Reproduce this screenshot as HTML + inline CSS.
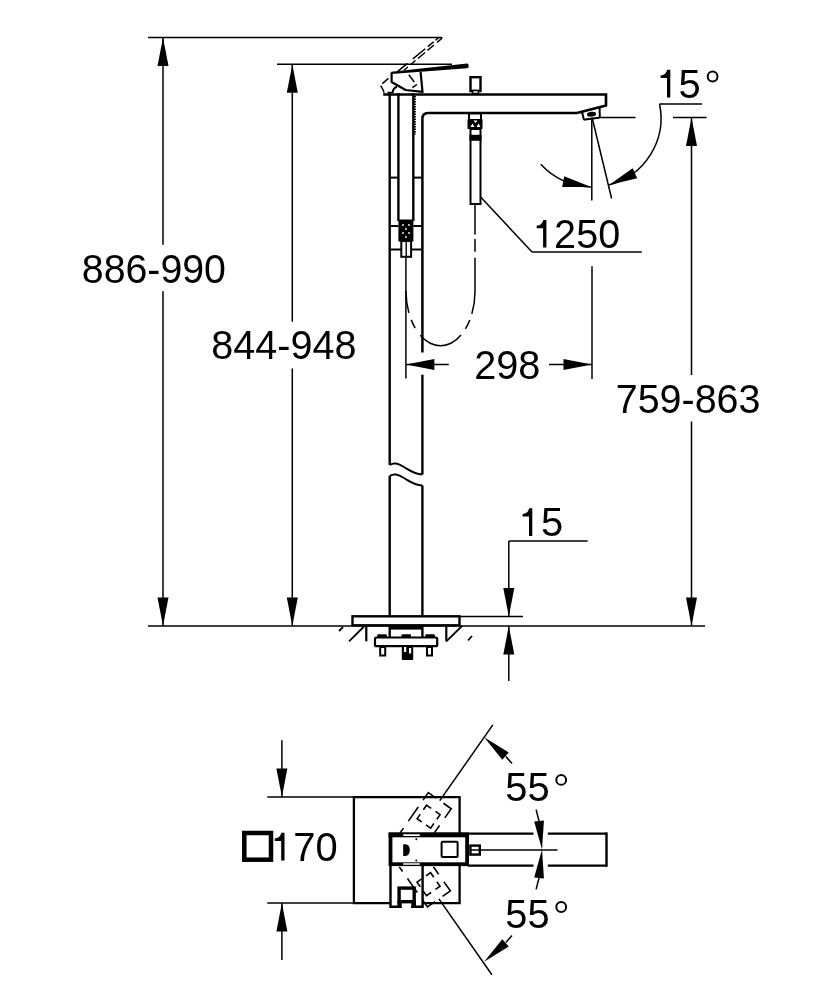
<!DOCTYPE html>
<html><head><meta charset="utf-8"><style>
html,body{margin:0;padding:0;background:#fff;}
svg{display:block;font-family:"Liberation Sans",sans-serif;will-change:transform;}
</style></head><body>
<svg width="834" height="1000" viewBox="0 0 834 1000" stroke="#000" fill="none" stroke-linecap="butt">
<line x1="148" y1="37.5" x2="441" y2="37.5" stroke-width="1.5"/>
<line x1="163" y1="37.5" x2="163" y2="244.7" stroke-width="1.5"/>
<line x1="163" y1="291.2" x2="163" y2="626" stroke-width="1.5"/>
<polygon points="163.00,37.50 168.50,66.00 157.50,66.00" fill="#000" stroke="none"/>
<polygon points="163.00,626.00 157.50,597.50 168.50,597.50" fill="#000" stroke="none"/>
<text transform="matrix(0.9826 0 0 1.0000 81.78 282.77)" font-size="40" stroke="none" fill="#000">886-990</text>
<line x1="277" y1="64.3" x2="452" y2="64.3" stroke-width="1.5"/>
<line x1="292.3" y1="64.3" x2="292.3" y2="321.7" stroke-width="1.5"/>
<line x1="292.3" y1="368.6" x2="292.3" y2="626" stroke-width="1.5"/>
<polygon points="292.30,64.30 297.80,92.80 286.80,92.80" fill="#000" stroke="none"/>
<polygon points="292.30,626.00 286.80,597.50 297.80,597.50" fill="#000" stroke="none"/>
<text transform="matrix(0.9885 0 0 1.0000 211.37 359.48)" font-size="40" stroke="none" fill="#000">844-948</text>
<line x1="148" y1="626" x2="705" y2="626" stroke-width="1.5"/>
<line x1="673" y1="117.4" x2="706.5" y2="117.4" stroke-width="1.5"/>
<line x1="691.5" y1="117.4" x2="691.5" y2="375" stroke-width="1.5"/>
<line x1="691.5" y1="421.5" x2="691.5" y2="626" stroke-width="1.5"/>
<polygon points="691.50,117.40 697.00,145.90 686.00,145.90" fill="#000" stroke="none"/>
<polygon points="691.50,626.00 686.00,597.50 697.00,597.50" fill="#000" stroke="none"/>
<text transform="matrix(0.9860 0 0 1.0000 615.73 412.67)" font-size="40" stroke="none" fill="#000">759-863</text>
<line x1="508.8" y1="541" x2="587.7" y2="541" stroke-width="1.5"/>
<line x1="508.8" y1="541" x2="508.8" y2="616.4" stroke-width="1.5"/>
<polygon points="508.80,616.40 503.30,587.90 514.30,587.90" fill="#000" stroke="none"/>
<line x1="460" y1="616.4" x2="523" y2="616.4" stroke-width="1.5"/>
<line x1="508.8" y1="626" x2="508.8" y2="681" stroke-width="1.5"/>
<polygon points="508.80,626.00 514.30,654.50 503.30,654.50" fill="#000" stroke="none"/>
<path d="M 532.30 508.30 L 532.30 535.90 L 529.00 535.90 L 529.00 516.50 L 522.60 516.50 L 522.60 514.10 Q 527.80 513.90 529.20 508.30 Z" fill="#000" stroke="none"/>
<text transform="matrix(1.0000 0 0 1.0000 540.95 536.08)" font-size="40" stroke="none" fill="#000">5</text>
<line x1="389.7" y1="93" x2="389.7" y2="465" stroke-width="2.4"/>
<line x1="389.7" y1="476" x2="389.7" y2="617" stroke-width="2.4"/>
<line x1="389.7" y1="625" x2="389.7" y2="637" stroke-width="2.4"/>
<path d="M 577 112.9 L 428.2 112.9 Q 422.4 112.9 422.4 118.7 L 422.4 352.6" stroke-width="2.5"/>
<line x1="422.4" y1="374.7" x2="422.4" y2="474.4" stroke-width="2.4"/>
<line x1="422.4" y1="485.5" x2="422.4" y2="617" stroke-width="2.4"/>
<line x1="422.4" y1="625" x2="422.4" y2="637" stroke-width="2.4"/>
<path d="M 383.2 94.5 L 606 94.5 L 606 105.5 L 577 112.9" stroke-width="2.6" stroke-linejoin="miter"/>
<path d="M 389.7 465 C 394 462, 398 463.5, 404 467 C 410 470.5, 414 474.5, 422.4 474.4" stroke-width="2"/>
<path d="M 389.7 476 C 394 473, 398 474.5, 404 478 C 410 481.5, 414 485.5, 422.4 485.4" stroke-width="2"/>
<line x1="398.4" y1="93" x2="398.4" y2="221" stroke-width="2.4"/>
<line x1="413.3" y1="93" x2="413.3" y2="221" stroke-width="2.4"/>
<line x1="389.7" y1="177.6" x2="398.4" y2="177.6" stroke-width="2"/>
<line x1="413.3" y1="177.6" x2="422.4" y2="177.6" stroke-width="2"/>
<line x1="389.7" y1="226" x2="398.4" y2="226" stroke-width="2"/>
<line x1="413.3" y1="226" x2="422.4" y2="226" stroke-width="2"/>
<line x1="389.7" y1="249.5" x2="401.5" y2="249.5" stroke-width="2"/>
<line x1="411" y1="249.5" x2="422.4" y2="249.5" stroke-width="2"/>
<rect x="398.4" y="219.5" width="15" height="22" fill="#000" stroke="none"/>
<circle cx="403" cy="225" r="0.9" fill="#fff" stroke="none"/>
<circle cx="409" cy="225" r="0.9" fill="#fff" stroke="none"/>
<circle cx="406" cy="229" r="0.9" fill="#fff" stroke="none"/>
<circle cx="403" cy="233" r="0.9" fill="#fff" stroke="none"/>
<circle cx="409" cy="233" r="0.9" fill="#fff" stroke="none"/>
<circle cx="406" cy="237" r="0.9" fill="#fff" stroke="none"/>
<rect x="401.3" y="241" width="9.8" height="15.8" stroke-width="2" fill="#fff"/>
<line x1="406.2" y1="241" x2="406.2" y2="257" stroke-width="1.4"/>
<line x1="414.9" y1="96" x2="414.9" y2="134.5" stroke-width="2" stroke-dasharray="1.6 0.9"/>
<line x1="405.9" y1="257" x2="405.9" y2="378.6" stroke-width="1.5"/>
<path d="M 475 204.5 L 475 291 A 34.5 54.7 0 0 1 406 291" stroke-width="1.5" stroke-dasharray="29.9 4.6 12.8 5.9 56.4 6.4 9.9 7.5 47.5 8.7 9.1 7.4 30"/>
<rect x="470.5" y="77.2" width="10" height="13.8" stroke-width="2.4" fill="#fff"/>
<rect x="472.5" y="90.5" width="6" height="3" fill="#fff" stroke-width="1.5"/>
<rect x="469" y="113.5" width="12" height="6.5" stroke-width="2" fill="#fff"/>
<rect x="467.5" y="119.5" width="15" height="9.5" fill="#000" stroke="none"/>
<polygon points="470.5,127 472.5,123.5 474.5,127" fill="#fff" stroke="none"/>
<polygon points="476.5,127 478.5,123.5 480.5,127" fill="#fff" stroke="none"/>
<polygon points="473.5,120.5 477.5,120.5 475.5,123" fill="#fff" stroke="none"/>
<rect x="470.5" y="129" width="10" height="75" stroke-width="2" fill="#fff"/>
<rect x="469.5" y="134.8" width="12" height="6" fill="#000" stroke="none"/>
<path d="M 391.2 71.7 L 467.2 63.4 Q 468.6 63.4 468.6 65.4 L 468.6 66.4 Q 468.6 68.2 467 68.3 L 391.2 74 Z" fill="#000" stroke="none"/>
<path d="M 420.6 72 L 422.6 92.8 M 391.6 72.4 L 391.6 82 L 405.6 90 L 422.6 91.8" stroke-width="2.2" stroke-linejoin="round"/>
<path d="M 397.4 71.6 L 439 37.4" stroke-width="1.5" stroke-dasharray="13 7 16 3.4 7.4 2.5 20"/>
<path d="M 404 70.2 L 441.6 38.6 Q 442.2 37.4 440.6 37.4" stroke-width="1.5" stroke-dasharray="5 3.8 6.2 3.2 9.3 3.2 8.5 4 20"/>
<path d="M 388.4 78.4 L 380.4 85.2 L 383.2 90 L 384 92.4 L 392 92.4" stroke-width="1.5" stroke-dasharray="8 3"/>
<path d="M 392.5 93 Q 393 88 397 86.8" stroke-width="2"/>
<path d="M 408.8 74.8 L 416.4 84.8 L 412.4 87.6" stroke-width="1.5" stroke-dasharray="9 3"/>
<path d="M 581.8 111 L 583.6 118.6 Q 584 119.8 585.2 119.6 L 598.6 117.8 Q 599.8 117.6 599.8 116.4 L 599.6 107" stroke-width="2" stroke-linejoin="round"/>
<ellipse cx="591.5" cy="114.2" rx="4.6" ry="2.4" fill="#000" stroke="none" transform="rotate(-7 591.5 114.2)"/>
<line x1="405.9" y1="364.4" x2="448.8" y2="364.4" stroke-width="1.5"/>
<polygon points="405.90,364.40 434.40,358.90 434.40,369.90" fill="#000" stroke="none"/>
<line x1="549" y1="364.5" x2="592" y2="364.5" stroke-width="1.5"/>
<polygon points="592.00,364.50 563.50,370.00 563.50,359.00" fill="#000" stroke="none"/>
<line x1="592" y1="266.3" x2="592" y2="379" stroke-width="1.5"/>
<text transform="matrix(0.9905 0 0 1.0000 474.22 378.98)" font-size="40" stroke="none" fill="#000">298</text>
<line x1="480.4" y1="196.8" x2="532" y2="252" stroke-width="1.5"/>
<line x1="532" y1="252" x2="641.8" y2="252" stroke-width="1.5"/>
<path d="M 546.40 220.00 L 546.40 247.60 L 543.10 247.60 L 543.10 228.20 L 536.70 228.20 L 536.70 225.80 Q 541.90 225.60 543.30 220.00 Z" fill="#000" stroke="none"/>
<text transform="matrix(0.9897 0 0 1.0000 554.12 247.78)" font-size="40" stroke="none" fill="#000">250</text>
<line x1="591.8" y1="117.6" x2="591.8" y2="200.4" stroke-width="1.5"/>
<line x1="592.2" y1="118" x2="611.6" y2="198.5" stroke-width="1.5"/>
<line x1="598" y1="117.4" x2="635.5" y2="117.4" stroke-width="1.5"/>
<line x1="659.5" y1="104" x2="702" y2="104" stroke-width="1.5"/>
<path d="M 670.30 69.80 L 670.30 97.40 L 667.00 97.40 L 667.00 78.00 L 660.60 78.00 L 660.60 75.60 Q 665.80 75.40 667.20 69.80 Z" fill="#000" stroke="none"/>
<text transform="matrix(1.0000 0 0 1.0000 678.45 97.53)" font-size="40" stroke="none" fill="#000">5</text>
<circle cx="712.6" cy="76.5" r="4.9" stroke-width="2"/>
<path d="M 659.56 103.99 A 69.0 69.0 0 0 1 608.97 184.88" stroke-width="1.5"/>
<polygon points="608.97,184.88 632.70,168.17 637.22,178.20" fill="#000" stroke="none"/>
<path d="M 540.82 164.28 A 69.0 69.0 0 0 0 591.19 187.00" stroke-width="1.5"/>
<polygon points="591.19,187.00 562.16,187.12 564.20,176.31" fill="#000" stroke="none"/>
<rect x="352.5" y="616.3" width="107" height="9" stroke-width="2.4" fill="#fff"/>
<rect x="389.7" y="625" width="32.7" height="4.6" fill="#000" stroke="none"/>
<line x1="366.3" y1="626" x2="366.3" y2="641.3" stroke-width="2.2"/>
<line x1="446.3" y1="626" x2="446.3" y2="641.3" stroke-width="2.2"/>
<line x1="349" y1="641.3" x2="364" y2="626.5" stroke-width="1.8"/>
<line x1="446.3" y1="641.3" x2="462" y2="626" stroke-width="1.8"/>
<line x1="339" y1="631" x2="343" y2="627" stroke-width="1.8"/>
<line x1="468" y1="640.5" x2="472" y2="636" stroke-width="1.8"/>
<rect x="377.3" y="634.3" width="9.5" height="4" rx="1" fill="#000" stroke="none"/>
<rect x="401.5" y="634.3" width="9.5" height="4" rx="1" fill="#000" stroke="none"/>
<rect x="425.3" y="634.3" width="9.5" height="4" rx="1" fill="#000" stroke="none"/>
<rect x="375" y="637.5" width="62.2" height="8.7" rx="1.5" stroke-width="2.2" fill="#fff"/>
<rect x="380.2" y="647" width="5" height="8.5" stroke-width="2" fill="#fff"/>
<rect x="427" y="647" width="5" height="8.5" stroke-width="2" fill="#fff"/>
<rect x="401.8" y="647" width="11.4" height="13" rx="1" fill="#000" stroke="none"/>
<rect x="404" y="647" width="2.2" height="5" fill="#fff" stroke="none"/>
<rect x="409" y="648" width="2.2" height="5.5" fill="#fff" stroke="none"/>
<line x1="267.3" y1="797" x2="354" y2="797" stroke-width="1.5"/>
<line x1="267.3" y1="903" x2="389.6" y2="903" stroke-width="1.5"/>
<line x1="281.9" y1="740.3" x2="281.9" y2="797" stroke-width="1.5"/>
<polygon points="281.90,797.00 276.40,768.50 287.40,768.50" fill="#000" stroke="none"/>
<line x1="281.9" y1="903" x2="281.9" y2="960" stroke-width="1.5"/>
<polygon points="281.90,903.00 287.40,931.50 276.40,931.50" fill="#000" stroke="none"/>
<rect x="244.3" y="833" width="26.7" height="26.7" stroke-width="4.5" fill="none"/>
<path d="M 284.50 832.80 L 284.50 860.40 L 281.20 860.40 L 281.20 841.00 L 274.80 841.00 L 274.80 838.60 Q 280.00 838.40 281.40 832.80 Z" fill="#000" stroke="none"/>
<text transform="matrix(0.9976 0 0 1.0000 293.30 860.92)" font-size="40" stroke="none" fill="#000">70</text>
<path d="M 389.6 903.2 L 353.9 903.2 L 353.9 797.2 L 459.6 797.2 L 459.6 833" stroke-width="2.3"/>
<path d="M 423 903.2 L 459.6 903.2 L 459.6 865" stroke-width="2.3"/>
<polyline points="400.19,832.80 403.46,828.13" stroke-width="1.6" stroke-linejoin="miter"/>
<polyline points="408.34,821.16 418.26,806.99" stroke-width="1.6" stroke-linejoin="miter"/>
<polyline points="423.08,800.11 428.30,792.66 436.00,798.05" stroke-width="1.6" stroke-linejoin="miter"/>
<polyline points="443.45,803.27 451.23,808.72 444.81,817.89" stroke-width="1.6" stroke-linejoin="miter"/>
<polyline points="439.53,825.43 434.31,832.88" stroke-width="1.6" stroke-linejoin="miter"/>
<polyline points="423.34,809.76 426.56,805.17 431.14,808.38" stroke-width="1.6" stroke-linejoin="miter"/>
<polyline points="435.48,811.42 440.07,814.63 436.86,819.22" stroke-width="1.6" stroke-linejoin="miter"/>
<polyline points="433.82,823.56 430.61,828.15 426.02,824.94" stroke-width="1.6" stroke-linejoin="miter"/>
<polyline points="421.68,821.90 417.09,818.69 420.30,814.10" stroke-width="1.6" stroke-linejoin="miter"/>
<line x1="439.77" y1="800.69" x2="492.82" y2="724.92" stroke-width="1.5"/>
<polyline points="399.29,866.84 402.56,871.50" stroke-width="1.6" stroke-linejoin="miter"/>
<polyline points="407.44,878.47 417.36,892.64" stroke-width="1.6" stroke-linejoin="miter"/>
<polyline points="422.18,899.52 427.40,906.97 435.10,901.58" stroke-width="1.6" stroke-linejoin="miter"/>
<polyline points="442.55,896.36 450.33,890.91 443.91,881.74" stroke-width="1.6" stroke-linejoin="miter"/>
<polyline points="438.63,874.20 433.41,866.75" stroke-width="1.6" stroke-linejoin="miter"/>
<polyline points="423.30,891.10 426.51,895.69 431.10,892.48" stroke-width="1.6" stroke-linejoin="miter"/>
<polyline points="435.44,889.44 440.03,886.23 436.82,881.64" stroke-width="1.6" stroke-linejoin="miter"/>
<polyline points="433.78,877.30 430.57,872.71 425.98,875.92" stroke-width="1.6" stroke-linejoin="miter"/>
<polyline points="421.64,878.96 417.05,882.17 420.26,886.76" stroke-width="1.6" stroke-linejoin="miter"/>
<line x1="438.87" y1="898.94" x2="491.92" y2="974.72" stroke-width="1.5"/>
<line x1="467.6" y1="833.6" x2="533.5" y2="833.6" stroke-width="2.4"/>
<line x1="547.8" y1="833.6" x2="606.5" y2="833.6" stroke-width="2.4"/>
<line x1="467.6" y1="865.6" x2="533.5" y2="865.6" stroke-width="2.4"/>
<line x1="547.8" y1="865.6" x2="606.5" y2="865.6" stroke-width="2.4"/>
<line x1="606.5" y1="832.4" x2="606.5" y2="866.8" stroke-width="2.4"/>
<rect x="470.4" y="845.6" width="9.4" height="9" stroke-width="2.4" fill="#fff"/>
<line x1="471" y1="850" x2="481" y2="850" stroke-width="1.5"/>
<line x1="481" y1="850" x2="557.5" y2="850" stroke-width="1.5"/>
<rect x="390.5" y="834.8" width="76.6" height="29.4" stroke-width="3.8" fill="#fff"/>
<rect x="388.6" y="832.3" width="80" height="5" fill="#000" stroke="none"/>
<rect x="403" y="834.2" width="17" height="1.7" rx="0.8" fill="#fff" stroke="none"/>
<rect x="403" y="863.3" width="17" height="1.5" rx="0.7" fill="#fff" stroke="none"/>
<circle cx="416.3" cy="839.2" r="1" fill="#000" stroke="none"/>
<circle cx="416.3" cy="860.4" r="1" fill="#000" stroke="none"/>
<path d="M 403.2 844.2 L 406 844.2 Q 409.8 845 409.8 850 Q 409.8 855.2 406 856 L 403.2 856 Z" fill="#000" stroke="none"/>
<rect x="441.6" y="841.7" width="16" height="15.4" rx="1" stroke-width="2" fill="none"/>
<path d="M 390.5 866 L 390.5 906.8 L 401.6 906.8 M 411.2 906.8 L 422.6 906.8 L 422.6 866" stroke-width="2.4" stroke-linejoin="miter"/>
<rect x="399.1" y="888.1" width="15.1" height="13.6" stroke-width="3.4" fill="none"/>
<rect x="397.4" y="901" width="4.2" height="7" fill="#000" stroke="none"/>
<rect x="411.4" y="901" width="4.6" height="7" fill="#000" stroke="none"/>
<line x1="505.91" y1="756.45" x2="512.00" y2="763.59" stroke-width="1.5"/>
<polygon points="484.14,737.15 508.79,752.45 502.29,759.79" fill="#000" stroke="none"/>
<line x1="539.08" y1="821.28" x2="536.11" y2="809.61" stroke-width="1.5"/>
<polygon points="542.00,849.50 534.19,821.56 543.93,820.55" fill="#000" stroke="none"/>
<line x1="539.08" y1="877.72" x2="536.11" y2="889.39" stroke-width="1.5"/>
<polygon points="542.00,849.50 543.93,878.45 534.19,877.44" fill="#000" stroke="none"/>
<line x1="505.91" y1="942.55" x2="512.00" y2="935.41" stroke-width="1.5"/>
<polygon points="484.14,961.85 502.29,939.21 508.79,946.55" fill="#000" stroke="none"/>
<text transform="matrix(0.9976 0 0 1.0000 505.25 800.98)" font-size="40" stroke="none" fill="#000">55</text>
<circle cx="561.2" cy="779.9" r="4.9" stroke-width="2"/>
<text transform="matrix(0.9951 0 0 1.0000 505.26 927.98)" font-size="40" stroke="none" fill="#000">55</text>
<circle cx="561.2" cy="907" r="4.9" stroke-width="2"/>
</svg></body></html>
